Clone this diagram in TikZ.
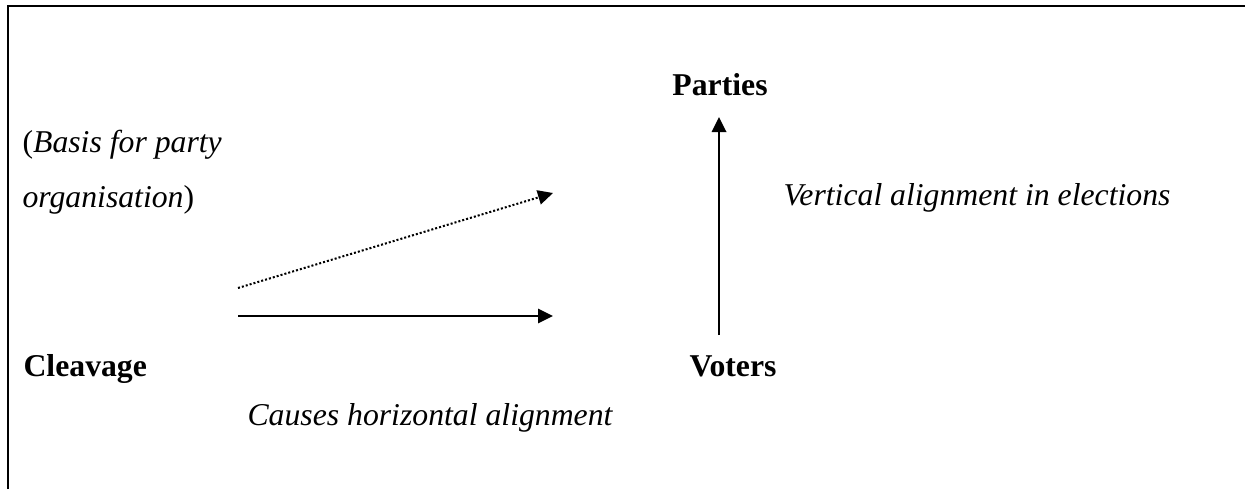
\documentclass[tikz,border=0pt]{standalone}
\usepackage{fontspec}
\setmainfont{Liberation Serif}
\usetikzlibrary{arrows.meta, positioning}

\begin{document}
\begin{tikzpicture}[x=0.3467pt, y=-0.3467pt,
  lbl/.style={font=\fontsize{11}{13}\selectfont, inner sep=0pt, anchor=base west},
  head/.style={font=\fontsize{11}{13}\selectfont\bfseries, inner sep=0pt, anchor=base},
  conn/.style={-{Triangle[length=5.2pt, width=5pt]}, line width=0.7pt}
]
  \useasboundingbox (0,0) rectangle (1245,489);
  \draw[line width=1pt] (8,489) -- (8,6) -- (1245,6);

  \node[head] (parties) at (720,95) {Parties};
  \node[head] (voters) at (733,376) {Voters};
  \node[head, anchor=base west] (cleavage) at (23,376) {Cleavage};

  \node[lbl] (basis) at (22,152) {(\textit{Basis for party}};
  \node[lbl] (organ) at (22,207) {\textit{organisation})};
  \node[lbl] (vertical) at (783,205) {\textit{Vertical alignment in elections}};
  \node[lbl] (causes) at (247,425) {\textit{Causes horizontal alignment}};

  \coordinate (vfoot) at (719,335);
  \coordinate (vtop) at (719,117);
  \coordinate (hstart) at (238,316);
  \coordinate (hend) at (553,316);
  \coordinate (dstart) at (238,288);
  \coordinate (dend) at (553,193);

  \draw[conn] (vfoot) -- (vtop);
  \draw[conn] (hstart) -- (hend);
  \draw[conn, line width=0.7pt, dash pattern=on 0.7pt off 0.7pt] (dstart) -- (dend);
\end{tikzpicture}
\end{document}
